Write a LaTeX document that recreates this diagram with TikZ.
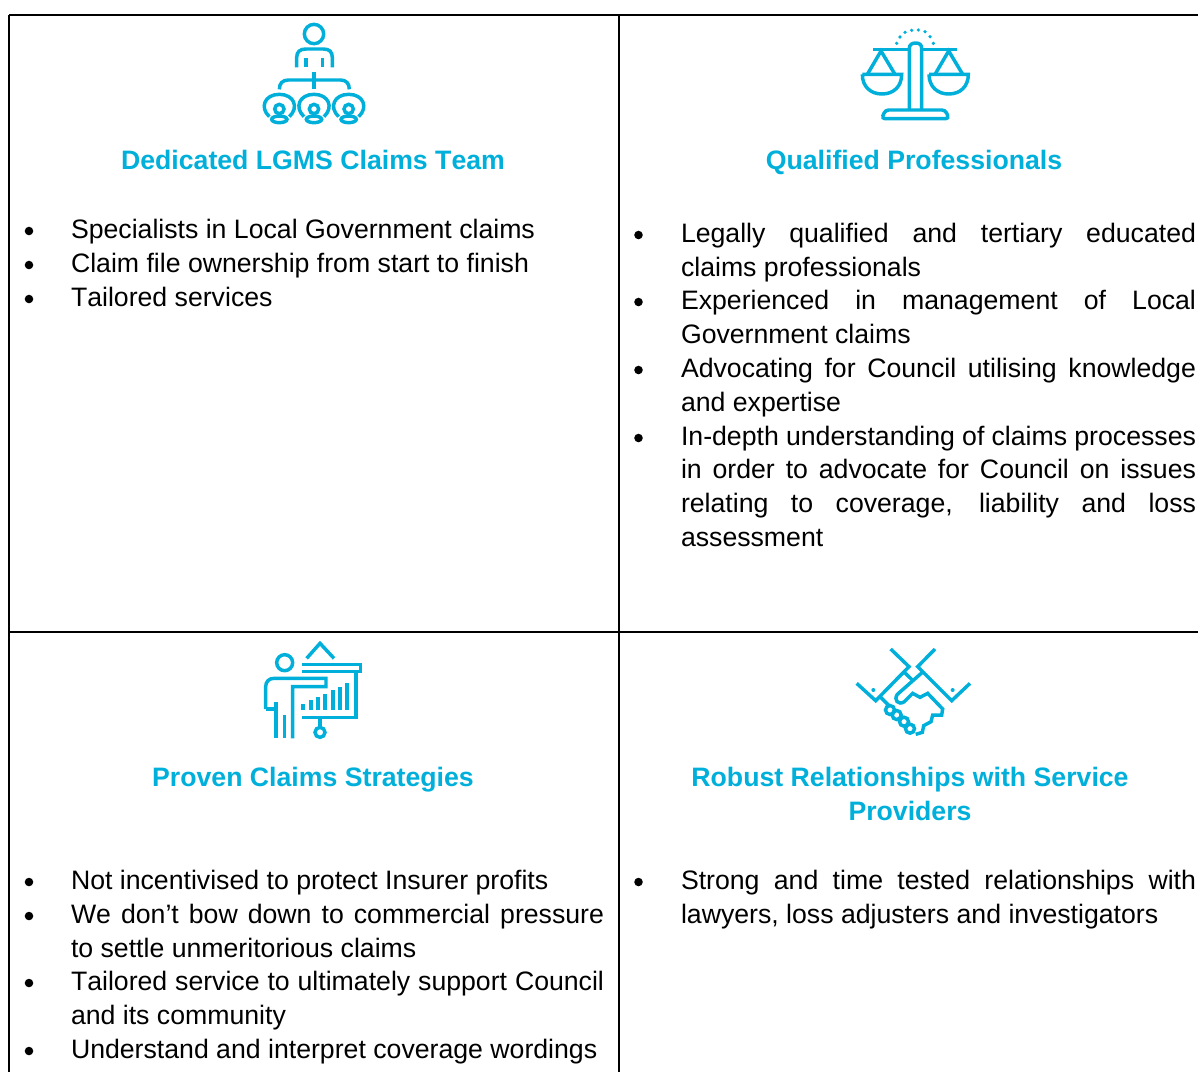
\documentclass[tikz,border=0pt]{standalone}
\usepackage{fontspec}
\setmainfont[Kerning=Off]{Liberation Sans}
\definecolor{brand}{HTML}{00B0DA}
\newcommand\jR[1]{\makebox[386.25pt][s]{#1}}
\newcommand\jL[1]{\makebox[399.75pt][s]{#1}}
\tikzset{
  body/.style={anchor=base west,inner sep=0pt,outer sep=0pt,font=\fontsize{20}{24}\selectfont,text=black},
  head/.style={anchor=base,inner sep=0pt,outer sep=0pt,font=\fontsize{20}{24}\selectfont\bfseries,text=brand},
  bull/.style={circle,fill=black,inner sep=0pt,minimum size=6.4pt},
  rule/.style={line width=1.6pt,black},
  ico/.style={draw=brand,line width=2.6pt,line join=miter},
  icf/.style={fill=brand,draw=none},
}
\begin{document}
\begin{tikzpicture}[x=0.75pt,y=-0.75pt]
\useasboundingbox (0,0) rectangle (1198,1072);
\fill[white] (0,0) rectangle (1198,1072);
\coordinate (tl) at (9,15); \coordinate (tr) at (1198,15);
\coordinate (bl) at (9,1072); \coordinate (ml) at (9,632); \coordinate (mr) at (1198,632);
\coordinate (mt) at (619,15); \coordinate (mb) at (619,1072);
\draw[rule] (tl)--(tr);
\draw[rule] (ml)--(mr);
\draw[rule] (tl)--(bl);
\draw[rule] (mt)--(mb);

% icon 1
\begin{scope}[shift={(250,10)},x=0.25pt,y=-0.25pt]
\draw[ico] (192,72) circle[radius=29*0.25pt];
\draw[ico] (140,172)--(140,143) .. controls (140,125) and (150,117) .. (168,117)--(220,117) .. controls (238,117) and (247,125) .. (247,143)--(247,172);
\draw[ico] (168,145)--(168,172) (218,145)--(218,172);
\draw[ico] (192,185)--(192,238);
\draw[ico] (88,238) .. controls (88,220) and (98,210) .. (115,210)--(272,210) .. controls (288,210) and (298,220) .. (298,238);
\foreach \c in {88,192,296}{
  \draw[ico] (\c-30,320) .. controls (\c-60,292) and (\c-44,253) .. (\c,253) .. controls (\c+44,253) and (\c+60,292) .. (\c+30,320);
  \draw[ico] (\c,297) circle[radius=14*0.25pt];
  \draw[ico] (\c,328) ellipse[x radius=23*0.25pt,y radius=10*0.25pt];
}
\end{scope}

% icon 2
\begin{scope}[shift={(850,15)},x=0.25pt,y=-0.25pt]
\foreach \a/\b in {140/85,150/66,165/52,185/46,205/45,225/50,240/65,250/85}
  \fill[icf] (\a,\b) circle[radius=5.5*0.25pt];
\draw[ico] (70,103)--(320,103);
\draw[ico,fill=white] (178,285)--(178,100) .. controls (178,89) and (186,84) .. (197,84) .. controls (208,84) and (215,89) .. (215,100)--(215,285);
\draw[ico,rounded corners=2.5pt] (95,311)--(106,285)--(286,285)--(297,311)--cycle;
\draw[ico] (52,178)--(93,108)--(135,178);
\draw[ico] (37,178)--(155,178) .. controls (155,215) and (130,237) .. (96,237) .. controls (62,237) and (37,215) .. (37,178);
\draw[ico] (255,178)--(296,108)--(338,178);
\draw[ico] (237,178)--(355,178) .. controls (355,215) and (330,237) .. (296,237) .. controls (262,237) and (237,215) .. (237,178);
\end{scope}

% icon 3
\begin{scope}[shift={(250,635)},x=0.25pt,y=-0.25pt]
\draw[ico] (170,70)--(210,25)--(252,70);
\draw[ico] (104,83) circle[radius=24*0.25pt];
\draw[ico] (155,88)--(331,88)--(331,110)--(155,110);
\draw[ico] (318,110)--(318,248)--(155,248);
\draw[ico] (78,200)--(78,310);
\draw[ico] (47,222)--(78,222);
\draw[ico] (47,222)--(47,155) .. controls (47,140) and (57,130) .. (72,130)--(228,130)--(228,155)--(128,155)--(128,310);
\draw[ico] (104,240)--(104,310);
\foreach \a/\b in {160/207,182/195,204/187,226/177,248/165,270/155,290/145}
  \draw[brand,line width=3pt] (\a,\b)--(\a,226);
\draw[ico] (210,248)--(210,277);
\draw[ico] (210,292) circle[radius=15*0.25pt];
\end{scope}

% icon 4
\begin{scope}[shift={(845,635)},x=0.25pt,y=-0.25pt]
\draw[ico] (137,42)--(192,95)--(92,197)--(35,145);
\draw[ico] (270,42)--(218,95)--(320,197)--(375,145);
\fill[icf] (85,165) circle[radius=6*0.25pt] (323,165) circle[radius=6*0.25pt];
\draw[ico] (178,112)--(205,138);
\draw[ico] (232,112)--(157,178) .. controls (145,195) and (160,212) .. (178,200)--(203,175)--(225,187)--(248,175)--(293,222)--(290,240)--(263,240)--(258,260)--(236,272)--(232,292)--(212,298);
\draw[ico] (105,185)--(130,210);
\foreach \a/\b in {135/225,155/240,177/260,195/281}
  \draw[ico] (\a,\b) circle[radius=13.5*0.25pt];
\end{scope}

% titles
\node[head] (t1) at (313,169) {Dedicated LGMS Claims Team};
\node[head] (t2) at (914,169) {Qualified Professionals};
\node[head] (t3) at (313,786) {Proven Claims Strategies};
\node[head] (t4a) at (910,786) {Robust Relationships with Service};
\node[head] (t4b) at (910,820) {Providers};

% cell 1
\node[bull] (b11) at (29,231) {};
\node[bull] (b12) at (29,265) {};
\node[bull] (b13) at (29,299) {};
\node[body] (l11) at (71,238) {Specialists in Local Government claims};
\node[body] (l12) at (71,272) {Claim file ownership from start to finish};
\node[body] (l13) at (71,306) {Tailored services};

% cell 2
\node[bull] (b21) at (638.5,235) {};
\node[bull] (b22) at (638.5,302) {};
\node[bull] (b23) at (638.5,370) {};
\node[bull] (b24) at (638.5,438) {};
\node[body] (l21) at (681,242) {\jR{Legally qualified and tertiary educated}};
\node[body] (l22) at (681,276) {claims professionals};
\node[body] (l23) at (681,309) {\jR{Experienced in management of Local}};
\node[body] (l24) at (681,343) {Government claims};
\node[body] (l25) at (681,377) {\jR{Advocating for Council utilising knowledge}};
\node[body] (l26) at (681,411) {and expertise};
\node[body] (l27) at (681,445) {\jR{In-depth understanding of claims processes}};
\node[body] (l28) at (681,478) {\jR{in order to advocate for Council on issues}};
\node[body] (l29) at (681,512) {\jR{relating to coverage, liability and loss}};
\node[body] (l2a) at (681,546) {assessment};

% cell 3
\node[bull] (b31) at (29,882) {};
\node[bull] (b32) at (29,916) {};
\node[bull] (b33) at (29,983) {};
\node[bull] (b34) at (29,1051) {};
\node[body] (l31) at (71,889) {Not incentivised to protect Insurer profits};
\node[body] (l32) at (71,923) {\jL{We don’t bow down to commercial pressure}};
\node[body] (l33) at (71,957) {to settle unmeritorious claims};
\node[body] (l34) at (71,990) {\jL{Tailored service to ultimately support Council}};
\node[body] (l35) at (71,1024) {and its community};
\node[body] (l36) at (71,1058) {Understand and interpret coverage wordings};

% cell 4
\node[bull] (b41) at (638.5,882) {};
\node[body] (l41) at (681,889) {\jR{Strong and time tested relationships with}};
\node[body] (l42) at (681,923) {lawyers, loss adjusters and investigators};
\end{tikzpicture}
\end{document}
